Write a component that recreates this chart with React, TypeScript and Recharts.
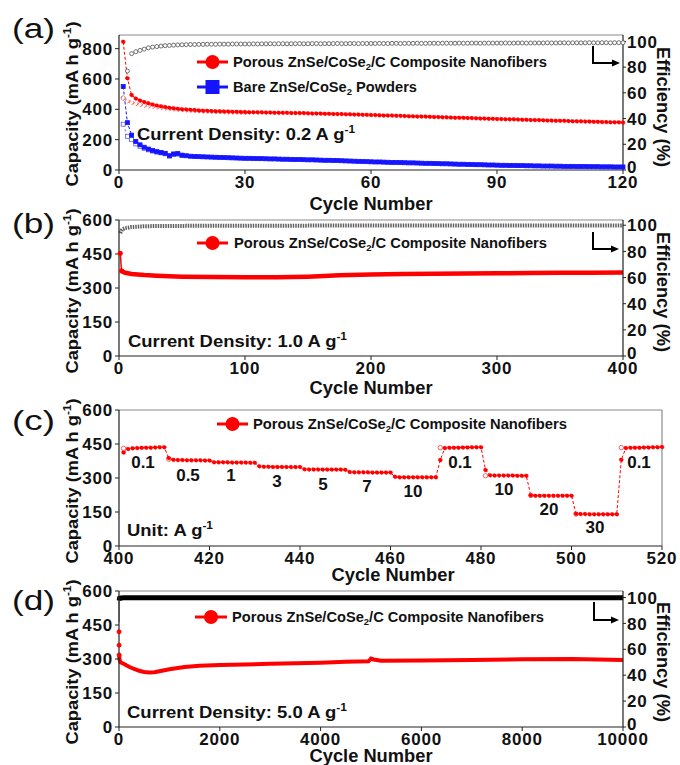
import React from 'react';
import { LineChart, Line, XAxis, YAxis, ReferenceLine } from 'recharts';

const FONT = '"Liberation Sans", Arial, Helvetica, sans-serif';
const RED = '#ff0000';
const PINK = '#ff5050';
const BLUE = '#1414ff';
const GREY = '#606060';
const AXIS = '#222';
const FRAME = '#8a8a8a';

// ---------- Panel (a): 0.2 A/g, 120 cycles ----------
const aPorousDischarge = [
  845, 605, 495, 472, 458, 448, 440, 432, 426, 420,
  415, 411, 407, 404, 401, 399, 397, 395, 393, 391,
  390, 389, 388, 387, 386, 385, 384, 384, 383, 382,
  381, 381, 380, 380, 379, 379, 378, 378, 377, 377,
  376, 376, 375, 375, 374, 373, 373, 372, 371, 371,
  370, 369, 369, 368, 367, 366, 366, 365, 364, 363,
  362, 361, 360, 360, 359, 358, 357, 356, 355, 354,
  353, 353, 352, 351, 350, 349, 348, 347, 346, 345,
  345, 344, 343, 342, 341, 340, 339, 338, 338, 337,
  336, 335, 334, 334, 333, 332, 331, 330, 329, 329,
  328, 327, 326, 325, 325, 324, 323, 322, 321, 321,
  320, 319, 318, 318, 317, 316, 315, 315, 314, 313,
];
const aPorousCharge = [
  474, 455, 445, 437, 431, 426, 422, 418, 414, 410,
  407, 404, 401, 399, 397, 395, 393, 391, 390, 388,
  387, 386, 385, 384, 383, 382, 381, 381, 380, 379,
];
const aBareDischarge = [
  550, 312, 230, 188, 166, 150, 138, 128, 121, 116,
  110, 94, 106, 108, 98, 94, 91, 89, 88, 87,
  86, 85, 84, 83, 82, 81, 80, 79, 78, 77,
  77, 76, 75, 75, 74, 73, 73, 72, 71, 71,
  70, 69, 69, 68, 67, 67, 66, 65, 64, 64,
  63, 62, 61, 60, 59, 58, 57, 56, 55, 54,
  53, 53, 52, 51, 50, 50, 49, 48, 47, 47,
  46, 45, 44, 44, 43, 42, 41, 41, 40, 39,
  38, 38, 37, 36, 35, 35, 34, 33, 33, 32,
  31, 31, 30, 30, 29, 29, 28, 28, 27, 27,
  26, 26, 26, 25, 25, 24, 24, 24, 23, 23,
  23, 22, 22, 22, 21, 21, 21, 20, 20, 20,
];
const aBareCharge = [302, 222, 200, 172, 156, 143, 133, 125, 118, 113, 107, 92, 102, 105, 96];
const aEfficiency = [
  56, 77, 90.5, 92, 93, 94, 95, 95.6, 96, 96.4,
  96.7, 96.9, 97.1, 97.3, 97.4, 97.5, 97.6, 97.6, 97.7, 97.7,
  97.8, 97.8, 97.8, 97.9, 97.9, 97.9, 98.0, 98.0, 98.0, 98.0,
  98.0, 98.1, 98.0, 98.1, 98.1, 98.2, 98.1, 98.2, 98.2, 98.1,
  98.2, 98.2, 98.3, 98.2, 98.2, 98.3, 98.3, 98.2, 98.3, 98.3,
  98.3, 98.4, 98.3, 98.3, 98.4, 98.4, 98.3, 98.4, 98.4, 98.4,
  98.4, 98.5, 98.4, 98.4, 98.5, 98.5, 98.4, 98.5, 98.5, 98.5,
  98.6, 98.5, 98.5, 98.6, 98.6, 98.5, 98.6, 98.6, 98.6, 98.6,
  98.7, 98.6, 98.6, 98.7, 98.7, 98.6, 98.7, 98.7, 98.7, 98.7,
  98.7, 98.8, 98.7, 98.7, 98.8, 98.8, 98.7, 98.8, 98.8, 98.8,
  98.8, 98.9, 98.8, 98.8, 98.9, 98.9, 98.8, 98.9, 98.9, 98.9,
  98.9, 99.0, 98.9, 98.9, 99.0, 99.0, 98.9, 99.0, 99.0, 99.0,
];
const aXTicks = [0, 30, 60, 90, 120];
const aCapTicks = [0, 200, 400, 600, 800];
const effTicks = [0, 20, 40, 60, 80, 100];

// ---------- Panel (b): 1.0 A/g, 400 cycles ----------
const bCycles = [1, 2, 3, 5, 10, 20, 30, 50, 75, 100, 125, 150, 175, 200, 225, 250, 275, 300, 325, 350, 375, 400];
const bDischarge = [453, 376, 372, 367, 362, 357, 354, 350, 348, 347, 347, 350, 356, 360, 362, 363, 364, 365, 366, 367, 367, 368];
const bEfficiency = [94, 96, 97, 97.8, 98.6, 99.2, 99.4, 99.5, 99.6, 99.6, 99.6, 99.7, 99.7, 99.7, 99.7, 99.7, 99.7, 99.7, 99.7, 99.7, 99.7, 99.7];
const bXTicks = [0, 100, 200, 300, 400];
const capTicks600 = [0, 150, 300, 450, 600];

// ---------- Panel (c): rate test, cycles 401-520 ----------
const cFirstCycle = 401;
const cDischarge = [
  412, 428, 431, 432, 433, 434, 434, 435, 436, 436,
  388, 380, 379, 379, 378, 378, 378, 378, 377, 377,
  370, 369, 369, 369, 368, 368, 368, 368, 367, 367,
  352, 350, 350, 349, 349, 349, 349, 348, 348, 348,
  339, 338, 338, 338, 337, 337, 337, 337, 337, 336,
  327, 325, 325, 325, 325, 324, 324, 324, 324, 324,
  305, 303, 303, 303, 303, 303, 303, 303, 303, 303,
  379, 432, 433, 434, 434, 435, 435, 436, 436, 436,
  335, 312, 311, 311, 311, 311, 311, 310, 310, 310,
  224, 222, 222, 222, 222, 222, 222, 222, 222, 222,
  142, 141, 141, 140, 140, 140, 140, 140, 140, 140,
  380, 432, 433, 434, 434, 435, 435, 436, 436, 437,
];
const cChargeCycles = [401, 411, 471, 481, 491, 501, 511];
const cChargeValues = [431, 383, 434, 310, 223, 141, 434];
const cXTicks = [400, 420, 440, 460, 480, 500, 520];
const cRateLabels = ['0.1', '0.5', '1', '3', '5', '7', '10', '0.1', '10', '20', '30', '0.1'];

// ---------- Panel (d): 5.0 A/g, 10000 cycles ----------
const dCycles = [1, 2, 3, 10, 30, 100, 200, 300, 400, 500, 600, 700, 800, 1000, 1300, 1600, 2000, 2500, 3000, 3500, 4000, 4500, 4950, 5000, 5050, 5200, 6000, 7000, 8000, 9000, 9500, 10000];
const dDischarge = [420, 361, 318, 298, 285, 278, 266, 256, 248, 243, 241, 242, 246, 255, 265, 270, 273, 276, 279, 281, 284, 288, 290, 302, 298, 292, 293, 296, 299, 300, 298, 296];
const dEfficiency = [81, 94, 97.5, 99.3, 99.6, 99.7, 99.7, 99.7, 99.7, 99.7, 99.7, 99.7, 99.7, 99.7, 99.7, 99.7, 99.7, 99.7, 99.7, 99.7, 99.7, 99.7, 99.7, 99.7, 99.7, 99.7, 99.7, 99.7, 99.7, 99.7, 99.7, 99.7];
const dXTicks = [0, 2000, 4000, 6000, 8000, 10000];

// ---------- tables built from the arrays ----------
const aData = aPorousDischarge.map((v, i) => ({
  cycle: i + 1,
  pd: v,
  pc: i < aPorousCharge.length ? aPorousCharge[i] : null,
  bd: aBareDischarge[i],
  bc: i < aBareCharge.length ? aBareCharge[i] : null,
  eff: aEfficiency[i],
}));
const bData = bCycles.map((c, i) => ({
  cycle: c,
  early: i <= 1 ? bDischarge[i] : null,
  main: i >= 1 ? bDischarge[i] : null,
  eff: bEfficiency[i],
}));
const cData = cDischarge.map((v, i) => {
  const cyc = cFirstCycle + i;
  const k = cChargeCycles.indexOf(cyc);
  return { cycle: cyc, dis: v, chg: k >= 0 ? cChargeValues[k] : null };
});
const dData = dCycles.map((c, i) => ({
  cycle: c,
  early: i <= 2 ? dDischarge[i] : null,
  main: i >= 2 ? dDischarge[i] : null,
  effEarly: i <= 2 ? dEfficiency[i] : null,
  eff: i >= 2 ? dEfficiency[i] : null,
}));

// ---------- ticks ----------
const tickText = { fontFamily: FONT, fontSize: 17, fontWeight: 700, fill: '#111', letterSpacing: 0.8 } as const;
const LeftTick = (p: any) => (
  <text x={p.x} y={p.y} dy="0.36em" textAnchor="end" {...tickText}>{p.payload.value}</text>
);
const RightTick = (p: any) => (
  <text x={p.x} y={p.payload.value === 0 ? p.y - 3 : p.y} dy="0.36em" textAnchor="start" {...tickText}>{p.payload.value}</text>
);
const BottomTick = (p: any) => (
  <text x={p.x} y={p.y} dy="0.71em" textAnchor="middle" {...tickText}>{p.payload.value}</text>
);

const squareDot = (color: string, fill: string) => (p: any) => {
  if (p.cx == null || p.cy == null || p.value == null || isNaN(p.cy)) return <g key={`s${p.index}`} />;
  return <rect key={`s${p.index}`} x={p.cx - 2} y={p.cy - 2} width={4} height={4} fill={fill} stroke={color} strokeWidth={0.8} />;
};

const axisLine = { stroke: AXIS, strokeWidth: 1.2 };
const tickLine = { stroke: AXIS, strokeWidth: 1 };

function PanelA() {
  return (
    <LineChart width={680} height={215} data={aData} margin={{ top: 35, right: 0, left: 0, bottom: 0 }}>
      <XAxis dataKey="cycle" type="number" domain={[0, 120]} ticks={aXTicks} height={45} tick={<BottomTick />} tickSize={4} tickMargin={2} axisLine={axisLine} tickLine={tickLine} />
      <YAxis yAxisId="cap" domain={[0, 890]} ticks={aCapTicks} width={119} tick={<LeftTick />} tickSize={4} tickMargin={2} axisLine={axisLine} tickLine={tickLine} allowDataOverflow />
      <YAxis yAxisId="eff" orientation="right" domain={[0, 105]} ticks={effTicks} width={57} tick={<RightTick />} tickSize={3} tickMargin={1} axisLine={axisLine} tickLine={tickLine} />
      <ReferenceLine yAxisId="cap" y={890} stroke={FRAME} strokeWidth={1.2} />
      <Line yAxisId="eff" dataKey="eff" stroke="none" dot={{ r: 2, fill: '#fff', stroke: GREY, strokeWidth: 0.9 }} isAnimationActive={false} />
      <Line yAxisId="cap" dataKey="pc" stroke={PINK} strokeWidth={0.8} strokeDasharray="3 2" dot={{ r: 2, fill: '#fff', stroke: PINK, strokeWidth: 0.8 }} isAnimationActive={false} />
      <Line yAxisId="cap" dataKey="pd" stroke={RED} strokeWidth={1} strokeDasharray="3 2" dot={{ r: 2, fill: RED, stroke: RED, strokeWidth: 0.5 }} isAnimationActive={false} />
      <Line yAxisId="cap" dataKey="bc" stroke="#6a6aff" strokeWidth={0.8} strokeDasharray="3 2" dot={squareDot('#5a5aff', '#fff')} isAnimationActive={false} />
      <Line yAxisId="cap" dataKey="bd" stroke={BLUE} strokeWidth={1} strokeDasharray="3 2" dot={squareDot(BLUE, BLUE)} isAnimationActive={false} />
    </LineChart>
  );
}

function PanelB() {
  return (
    <LineChart width={680} height={200} data={bData} margin={{ top: 40, right: 0, left: 0, bottom: 0 }}>
      <XAxis dataKey="cycle" type="number" domain={[0, 400]} ticks={bXTicks} height={24} tick={<BottomTick />} tickSize={4} tickMargin={2} axisLine={axisLine} tickLine={tickLine} />
      <YAxis yAxisId="cap" domain={[0, 600]} ticks={capTicks600} width={119} tick={<LeftTick />} tickSize={4} tickMargin={2} axisLine={axisLine} tickLine={tickLine} />
      <YAxis yAxisId="eff" orientation="right" domain={[0, 104]} ticks={effTicks} width={57} tick={<RightTick />} tickSize={3} tickMargin={1} axisLine={axisLine} tickLine={tickLine} />
      <ReferenceLine yAxisId="cap" y={600} stroke={FRAME} strokeWidth={1.2} />
      <Line yAxisId="eff" dataKey="eff" stroke={GREY} strokeWidth={4} strokeDasharray="1.5 1" dot={false} isAnimationActive={false} />
      <Line yAxisId="cap" dataKey="early" stroke={RED} strokeWidth={1.5} dot={{ r: 1.8, fill: RED, stroke: RED }} isAnimationActive={false} />
      <Line yAxisId="cap" dataKey="main" stroke={RED} strokeWidth={4.5} dot={false} isAnimationActive={false} />
    </LineChart>
  );
}

function PanelC() {
  return (
    <LineChart width={680} height={200} data={cData} margin={{ top: 40, right: 18, left: 0, bottom: 0 }}>
      <XAxis dataKey="cycle" type="number" domain={[400, 520]} ticks={cXTicks} height={24} tick={<BottomTick />} tickSize={4} tickMargin={2} axisLine={axisLine} tickLine={tickLine} />
      <YAxis yAxisId="cap" domain={[0, 600]} ticks={capTicks600} width={119} tick={<LeftTick />} tickSize={4} tickMargin={2} axisLine={axisLine} tickLine={tickLine} />
      <ReferenceLine yAxisId="cap" y={600} stroke={FRAME} strokeWidth={1.2} />
      <ReferenceLine yAxisId="cap" x={520} stroke={FRAME} strokeWidth={1.2} />
      <Line yAxisId="cap" dataKey="chg" stroke="none" dot={{ r: 2.2, fill: '#fff', stroke: PINK, strokeWidth: 0.9 }} isAnimationActive={false} />
      <Line yAxisId="cap" dataKey="dis" stroke={RED} strokeWidth={1} strokeDasharray="3 2" dot={{ r: 2, fill: RED, stroke: RED, strokeWidth: 0.5 }} isAnimationActive={false} />
    </LineChart>
  );
}

function PanelD() {
  return (
    <LineChart width={680} height={214} data={dData} margin={{ top: 40, right: 0, left: 0, bottom: 0 }}>
      <XAxis dataKey="cycle" type="number" domain={[0, 10000]} ticks={dXTicks} height={38} tick={<BottomTick />} tickSize={4} tickMargin={2} axisLine={axisLine} tickLine={tickLine} />
      <YAxis yAxisId="cap" domain={[0, 600]} ticks={capTicks600} width={119} tick={<LeftTick />} tickSize={4} tickMargin={2} axisLine={axisLine} tickLine={tickLine} />
      <YAxis yAxisId="eff" orientation="right" domain={[0, 105]} ticks={effTicks} width={57} tick={<RightTick />} tickSize={3} tickMargin={1} axisLine={axisLine} tickLine={tickLine} />
      <ReferenceLine yAxisId="cap" y={600} stroke={FRAME} strokeWidth={1.2} />
      <Line yAxisId="eff" dataKey="effEarly" stroke={GREY} strokeWidth={1} dot={false} isAnimationActive={false} />
      <Line yAxisId="eff" dataKey="eff" stroke="#000" strokeWidth={5} dot={false} isAnimationActive={false} />
      <Line yAxisId="cap" dataKey="early" stroke="none" dot={{ r: 2, fill: RED, stroke: RED }} isAnimationActive={false} />
      <Line yAxisId="cap" dataKey="main" stroke={RED} strokeWidth={4} dot={false} isAnimationActive={false} />
    </LineChart>
  );
}

const T = { fontFamily: FONT, fontWeight: 700, fill: '#111' } as const;

function LegendRow({ x1, x2, y, marker, color, tx, textLen, children }: any) {
  const cx = (x1 + x2) / 2;
  return (
    <g>
      <line x1={x1} x2={x2} y1={y} y2={y} stroke={color} strokeWidth={3} />
      {marker === 'circle' ? (
        <circle cx={cx} cy={y} r={7} fill={color} />
      ) : (
        <rect x={cx - 7} y={y - 7} width={14} height={14} fill={color} />
      )}
      <text x={tx} y={y + 4.5} fontSize={14} textLength={textLen} lengthAdjust="spacingAndGlyphs" {...T}>
        {children}
      </text>
    </g>
  );
}

const porousName = (
  <>
    Porous ZnSe/CoSe<tspan fontSize={9} dy={3}>2</tspan><tspan dy={-3}>/C Composite Nanofibers</tspan>
  </>
);

function Arrow({ x, y1, y2, x2 }: any) {
  return (
    <g>
      <path d={`M${x} ${y1} V${y2} H${x2 - 7}`} stroke="#000" strokeWidth={2} fill="none" />
      <path d={`M${x2 - 8} ${y2 - 3.5} L${x2} ${y2} L${x2 - 8} ${y2 + 3.5} Z`} fill="#000" />
    </g>
  );
}

function CapLabel({ cy }: any) {
  return (
    <text transform={`translate(78, ${cy}) rotate(-90)`} textAnchor="middle" fontSize={17} textLength={165} lengthAdjust="spacingAndGlyphs" {...T}>
      Capacity (mA h g<tspan fontSize={11} dy={-7}>-1</tspan><tspan dy={7}>)</tspan>
    </text>
  );
}
function EffLabel({ cy }: any) {
  return (
    <text transform={`translate(657, ${cy}) rotate(90)`} textAnchor="middle" fontSize={18} textLength={120} lengthAdjust="spacingAndGlyphs" {...T}>
      Efficiency (%)
    </text>
  );
}
function CycleLabel({ cx, y }: any) {
  return (
    <text x={cx} y={y} textAnchor="middle" fontSize={18} textLength={123} lengthAdjust="spacingAndGlyphs" {...T}>
      Cycle Number
    </text>
  );
}
function Letter({ y, s }: any) {
  return (
    <text x={12} y={y} fontSize={27} textLength={43} lengthAdjust="spacingAndGlyphs" fontFamily={FONT} fill="#111">
      {s}
    </text>
  );
}
function Density({ x, y, len, s }: any) {
  return (
    <text x={x} y={y} fontSize={17} textLength={len} lengthAdjust="spacingAndGlyphs" {...T}>
      {s}<tspan fontSize={11} dy={-7}>-1</tspan>
    </text>
  );
}

const rateLabelPx = [
  [143, 468], [188, 481], [231, 481], [277, 487], [323, 490], [367, 492],
  [413, 497], [460, 468], [504, 495], [549, 515], [595, 533], [639, 468],
];

function Overlay() {
  return (
    <svg width={680} height={765} style={{ position: 'absolute', left: 0, top: 0, pointerEvents: 'none' }}>
      <Letter y={38} s="(a)" />
      <Letter y={233} s="(b)" />
      <Letter y={430} s="(c)" />
      <Letter y={610} s="(d)" />
      <CapLabel cy={104} />
      <CapLabel cy={291} />
      <CapLabel cy={481} />
      <CapLabel cy={662} />
      <EffLabel cy={107} />
      <EffLabel cy={292} />
      <EffLabel cy={662} />
      <CycleLabel cx={371} y={210} />
      <CycleLabel cx={371} y={394} />
      <CycleLabel cx={393} y={581} />
      <CycleLabel cx={371} y={762} />
      <LegendRow x1={197} x2={228} y={62} marker="circle" color={RED} tx={233} textLen={314}>{porousName}</LegendRow>
      <LegendRow x1={197} x2={228} y={87} marker="square" color={BLUE} tx={233} textLen={184}>
        Bare ZnSe/CoSe<tspan fontSize={9} dy={3}>2</tspan><tspan dy={-3}> Powders</tspan>
      </LegendRow>
      <LegendRow x1={197} x2={228} y={243} marker="circle" color={RED} tx={234} textLen={313}>{porousName}</LegendRow>
      <LegendRow x1={217} x2={248} y={424} marker="circle" color={RED} tx={253} textLen={314}>{porousName}</LegendRow>
      <LegendRow x1={195} x2={227} y={617} marker="circle" color={RED} tx={232} textLen={312}>{porousName}</LegendRow>
      <Density x={137} y={140} len={218} s="Current Density: 0.2 A g" />
      <Density x={128} y={347} len={219} s="Current Density: 1.0 A g" />
      <Density x={127} y={536} len={86} s="Unit: A g" />
      <Density x={127} y={718} len={220} s="Current Density: 5.0 A g" />
      {cRateLabels.map((s, i) => (
        <text key={i} x={rateLabelPx[i][0]} y={rateLabelPx[i][1]} textAnchor="middle" fontSize={17} {...T}>{s}</text>
      ))}
      <Arrow x={593} y1={46} y2={63} x2={620} />
      <Arrow x={593} y1={232} y2={249} x2={619} />
      <Arrow x={594} y1={602} y2={620} x2={619} />
    </svg>
  );
}

export default function App() {
  return (
    <div style={{ position: 'absolute', left: 0, top: 0, width: 680, height: 765, background: '#fff', overflow: 'hidden' }}>
      <div style={{ position: 'absolute', left: 0, top: 0 }}><PanelA /></div>
      <div style={{ position: 'absolute', left: 0, top: 180 }}><PanelB /></div>
      <div style={{ position: 'absolute', left: 0, top: 370 }}><PanelC /></div>
      <div style={{ position: 'absolute', left: 0, top: 551 }}><PanelD /></div>
      <Overlay />
    </div>
  );
}
